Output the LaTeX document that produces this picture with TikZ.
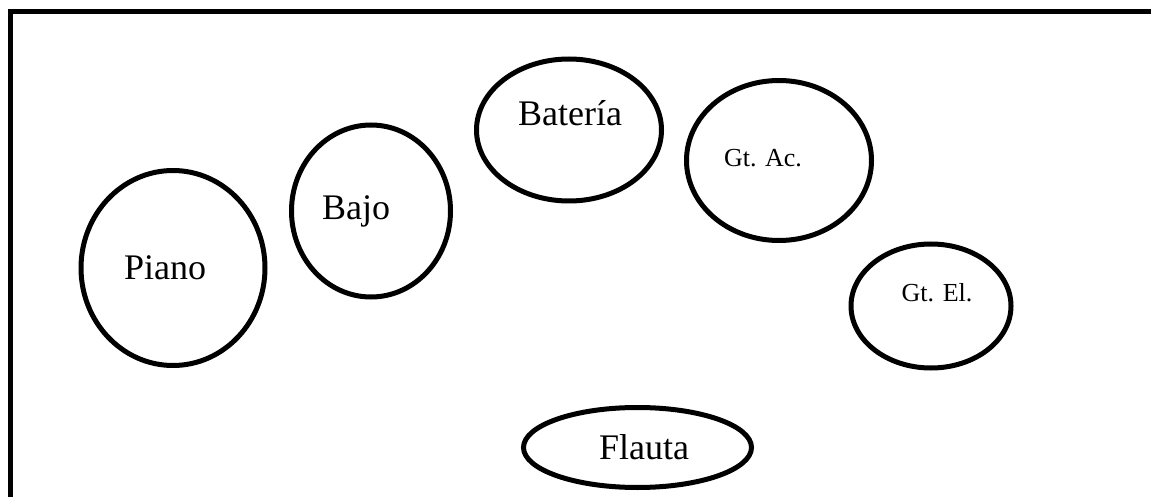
\documentclass[tikz,border=0pt]{standalone}
\usepackage{fontspec}
\setmainfont{Liberation Serif}
\usetikzlibrary{shapes.geometric}

\begin{document}
\begin{tikzpicture}[
    x=0.5pt, y=-0.5pt,
    instr/.style={ellipse, draw, line width=2.5pt, inner sep=0pt},
    big/.style={font=\fontsize{18}{21}\selectfont},
    small/.style={font=\fontsize{13}{16}\selectfont}
]
\useasboundingbox (0,0) rectangle (1151,497);

% Frame
\draw[line width=2.5pt, line join=miter] (1151,11.5) -- (10,11.5) -- (10,497);

% Instruments
\node[instr, minimum width=92pt, minimum height=97.5pt] (piano) at (173,268) {};
\node[instr, minimum width=79.5pt, minimum height=86pt] (bajo) at (371,211) {};
\node[instr, minimum width=92.5pt, minimum height=71pt] (bateria) at (569,130) {};
\node[instr, minimum width=92.5pt, minimum height=80pt] (gtac) at (779,160.5) {};
\node[instr, minimum width=80pt, minimum height=62pt] (gtel) at (931,306) {};
\node[instr, minimum width=114pt, minimum height=40pt] (flauta) at (637.5,447.5) {};

% Labels
\node[big] (pianotxt) at (165,268) {Piano};
\node[big] (bajotxt) at (356,211) {Bajo};
\node[big] (bateriatxt) at (570,113) {Batería};
\node[small] (gtactxt) at (763,158) {Gt. Ac.};
\node[small] (gteltxt) at (937,293) {Gt. El.};
\node[big] (flautatxt) at (644,447) {Flauta};

\end{tikzpicture}
\end{document}
